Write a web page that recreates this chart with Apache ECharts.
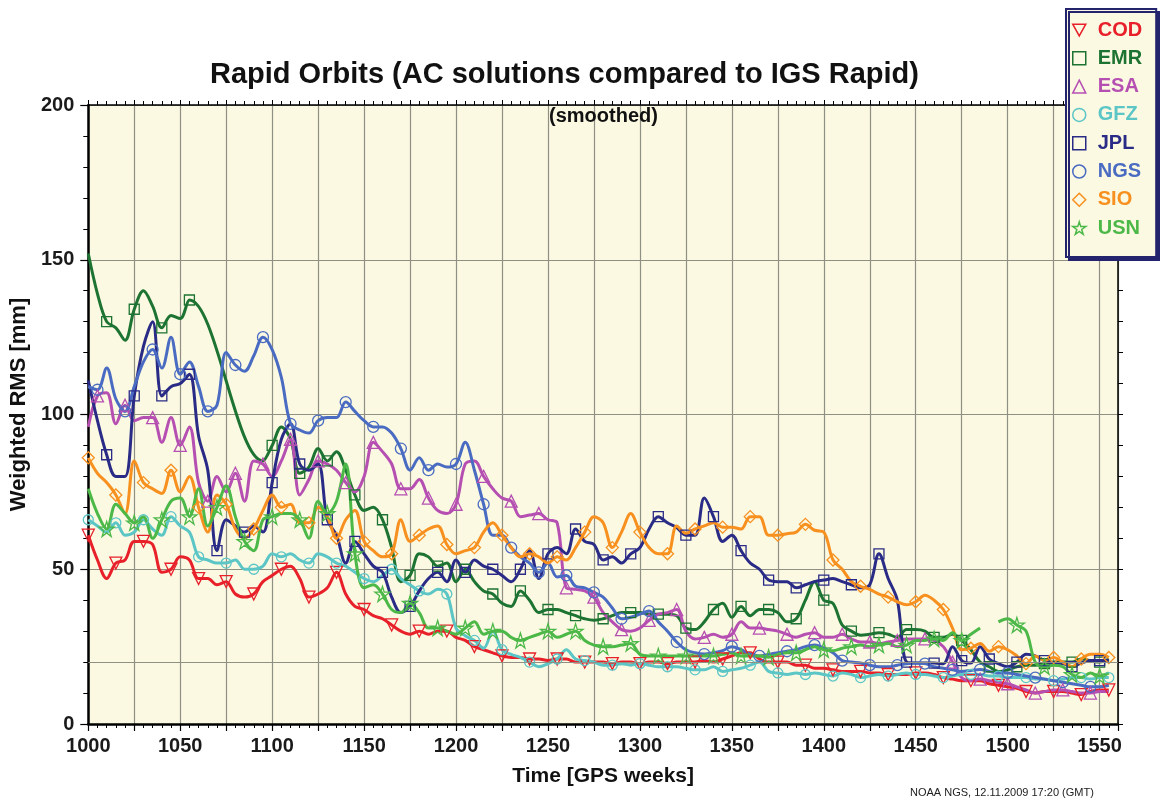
<!DOCTYPE html>
<html>
<head>
<meta charset="utf-8">
<title>Rapid Orbits</title>
<script src="https://cdn.jsdelivr.net/npm/echarts@6/dist/echarts.min.js"></script>
<style>
html, body { margin: 0; padding: 0; background: #fff; }
#chart { width: 1160px; height: 802px; }
</style>
</head>
<body>
<div id="chart"></div>
<script>
'use strict';

// GPS weeks, one value every 5 weeks
var weeks = [
	1000, 1005, 1010, 1015, 1020, 1025, 1030, 1035, 1040, 1045,
	1050, 1055, 1060, 1065, 1070, 1075, 1080, 1085, 1090, 1095,
	1100, 1105, 1110, 1115, 1120, 1125, 1130, 1135, 1140, 1145,
	1150, 1155, 1160, 1165, 1170, 1175, 1180, 1185, 1190, 1195,
	1200, 1205, 1210, 1215, 1220, 1225, 1230, 1235, 1240, 1245,
	1250, 1255, 1260, 1265, 1270, 1275, 1280, 1285, 1290, 1295,
	1300, 1305, 1310, 1315, 1320, 1325, 1330, 1335, 1340, 1345,
	1350, 1355, 1360, 1365, 1370, 1375, 1380, 1385, 1390, 1395,
	1400, 1405, 1410, 1415, 1420, 1425, 1430, 1435, 1440, 1445,
	1450, 1455, 1460, 1465, 1470, 1475, 1480, 1485, 1490, 1495,
	1500, 1505, 1510, 1515, 1520, 1525, 1530, 1535, 1540, 1545,
	1550, 1555
];

// weighted RMS [mm] per analysis centre (smoothed)
var cod = [
	61, 53, 47, 52, 53, 59, 59, 58, 49, 50,
	54, 53, 47, 47, 45, 46, 42, 41, 42, 46,
	48, 50, 51, 47, 41, 42, 44, 49, 42, 38,
	37, 35, 34, 32, 30, 29, 30, 29, 30, 30,
	28, 27, 25, 24, 23, 22, 21.5, 21.5, 21, 21,
	20.5, 21, 21, 20, 20, 20, 20, 19.5, 20, 20,
	19.5, 20, 20, 19.5, 20, 20, 20, 20.5, 20, 21,
	22, 23, 23, 21, 20, 20, 20, 19, 19, 18,
	18, 17.5, 17, 17, 17, 16.5, 16.5, 16, 16, 16,
	16.5, 16.5, 16, 15, 14.5, 14, 14, 14, 13, 12.5,
	12, 11.5, 10.5, 10, 10.5, 10.5, 10.5, 10, 9.5, 10.5,
	11, 11
];
var emr = [
	152, 139, 130, 128, 124, 134, 140, 135, 128, 132,
	131, 137, null, null, null, null, null, null, null, 85,
	90, 96, 92, 81, 83, 89, 85, 88, 82, 74,
	69, 70, 66, 57, 46, 48, 55, 54, 51, 52,
	46, 50, 46, 43, 42, 39, 38, 43, 40, 36,
	37, 37, 36, 35, 34, 33.5, 34, 35, 36, 36,
	36, 35.5, 35.5, 35.5, 35, 31, 30.5, 33, 37, 39,
	34.5, 38, 35, 37, 37, 36, 33, 34, 40, 46,
	40, 39, 32, 30, 28.7, 29, 29.5, 29, 28, 30.5,
	30.5, 30, 28, 28, 29, 27, 24, 20, 18.5, 17,
	17.5, 18.5, 19, 19, 19.5, 20, 20, 20, 21, 20.5,
	20, 21
];
var esa = [
	96, 106, 107, 97, 103, 98, 99, 99, 91, 99,
	90, 96, 78, 72, 80, 75, 81, 72, 85, 84,
	80, 85, 92, 74, 79, 85, 84, 82, 78, 75,
	80, 91, 88, 84, 76, 76, 79, 73, 69, 68,
	71, 84, 85, 80, 76, 73, 72, 67, 67.5, 68,
	66, 65, 44, 43.5, 43, 41, 36, 33, 30.5, 30,
	31, 33.5, 35.5, 36, 37, 30, 27.5, 28, 29, 28,
	29, 33, 31, 31, 30.5, 30, 29, 28, 29, 29.5,
	28, 28, 29, 27.5, 26.5, 26.5, 26, 26.5, 27, 27.5,
	27.5, 27.5, 27, 25, 20, 15, 14, 14.5, 14, 13.5,
	13, 12, 11, 10, 10.5, 11, 11, 10.5, 10, 10,
	10.5, 10.5
];
var gfz = [
	66, 64, 62, 65, 61, 62, 66, 63, 61, 67,
	64, 62, 54, 53, 52, 52, 53, 50, 50, 51,
	55, 54, 55, 53, 52, 55, 54, 52, 51, 49,
	47, 46, 48, 50, 47, 45, 43, 42, 43.5, 42,
	31, 28.5, 27, 24.5, 30, 24, 22.5, 21.5, 20, 18.5,
	19.5, 21, 24, 21, 20.5, 20, 19, 19, 19.5, 19,
	19.5, 19, 18.5, 18.5, 18.5, 18, 17.5, 17.5, 18.5, 17,
	17.5, 18, 19, 20, 17, 16.5, 16, 16.5, 16, 16.5,
	16, 15.5, 16.5, 16, 15, 15.5, 16, 15.5, 16, 16.5,
	16, 16, 15.5, 15, 15.5, 16, 16, 16, 15.5, 15.5,
	15, 15, 15, 14.5, 14.5, 14, 14.5, 15, 15, 14.5,
	15, 15
];
var jpl = [
	111, 98, 87, 80, 80, 106, 122, 130, 106, 109,
	110, 113, 93, 82, 56, 66, 64, 62, 64, 62,
	78, 92, 97, 84, 82, 84, 66, 61, 52, 59,
	55, 51, 49, 41, 36, 38, 43, 47, 49, 46,
	53, 49, 53, 51, 50, 48, 46, 50, 56, 47,
	55, 57, 55, 63, 59, 58, 53, 54, 52, 55,
	57, 63, 67, 65, 63.5, 61, 61, 73, 67, 59,
	61, 56, 52, 50, 46.5, 46, 46, 44, 45, 46,
	46.5, 47, 46, 45, 44, 45, 55, 47, 40, 20,
	19.7, 19.7, 19.7, 19.5, 25, 20.5, 19.7, 25, 21, 19.5,
	18.5, 20, 22.5, 22, 20.5, 19.7, 19.5, 18.5, 19.7, 20.5,
	20.5, 20.5
];
var ngs = [
	109, 108, 115, 105, 101, 109, 117, 121, 115, 125,
	113, 117, 109, 101, 103, 120, 116, 114, 119, 125,
	121, 112, 97, 95, 94, 98, 99, 99, 104, 101,
	98, 96, 96, 94, 89, 82, 86, 82, 84, 83,
	84, 91, 82, 71, 61, 61, 57, 54, 52, 49,
	52, 47.5, 48, 44.5, 44, 42.5, 41, 37.5, 34, 34.5,
	35.5, 36.5, 33, 30, 26.5, 24, 23, 22.6, 23, 23.7,
	25, 24, 22.6, 22, 22.5, 23, 23.5, 24, 25, 25.5,
	24.5, 23, 20.5, 20, 19.7, 19, 18.5, 18.5, 19, 19.5,
	19.7, 19.5, 18.5, 18, 17.5, 17, 17.3, 17.6, 17, 16.5,
	16.5, 16, 15.5, 15, 14.5, 14, 13.5, 13, 12.5, 12,
	12, 12.5
];
var sio = [
	86, 81, 78, 74, 68, 85, 78, 76, 74.5, 82,
	75, 80, 70, 62, 74, 71, 63, 60, 63, 69,
	74, 70, 71, 65, 65, 70, 67, 60, 66, 69,
	59, 56, 54, 55, 66, 59, 61, 63, 64, 58,
	55, 56, 57, 62, 65, 61, 57, 54, 55, 54,
	52, 54, 53, 57, 62, 67, 65, 57, 62, 68,
	62, 57, 55, 55, 64, 61.6, 63, 64, 65, 63.6,
	63.6, 63, 67, 67, 61, 61, 61.5, 62, 64.5, 62.6,
	62, 53, 50, 46, 44.5, 43.5, 42, 41, 39.5, 38.5,
	39.5, 41.6, 40, 37, 31, 24, 24.5, 26, 23.5, 25,
	24, 22, 19.5, 22, 20.5, 21.5, 20, 18.5, 21, 22.5,
	22.5, 21.5
];
var usn = [
	76, 68, 63, 71, 68, 65, 67, 60, 66, 72,
	73, 67, 76, 64, 70, 77, 67, 59, 56, 66,
	67, 68, 68, 66, 60, 72, 68, 72, 84, 55,
	44, 45, 42, 37, 36, 39, 36, 31, 31, 30,
	29, 31, 33, 29, 30, 30, 28, 27, 28, 29,
	30, 28, 29, 30, 27, 25.5, 25, 25, 25.5, 26,
	22.5, 22, 22, 22, 22, 22, 22, 22, 22, 22.5,
	23, 22, 22, 22, 21.6, 22.5, 23, 23, 24, 25,
	24, 23.7, 24.5, 25, 25.5, 25, 25.5, 26, 25, 25.5,
	27, 27, 27.5, 27, 29.5, 27, 29, 31, null, 33,
	34, 32, 30, 20, 18.5, 19, 18.5, 16, 15, 16.5,
	15.5, 16.5
];

var names = ['COD', 'EMR', 'ESA', 'GFZ', 'JPL', 'NGS', 'SIO', 'USN'];
var values = [cod, emr, esa, gfz, jpl, ngs, sio, usn];

// 样式
var colors = ['#e8202a', '#1d7332', '#b64fb2', '#5cc6c6', '#2a2b86', '#4a6bc2', '#f7901e', '#4cb848'];
var starPath = 'path://M50,2 L61,37 L98,37 L68,58 L79,94 L50,72 L21,94 L32,58 L2,37 L39,37 Z';
var symbols = ['path://M0,0 L10,0 L5,9 Z', 'rect', 'triangle', 'circle', 'rect', 'circle', 'diamond', starPath];
var symbolSizes = [12, 10, 12, 10, 10, 11, 12, 15];
var font = '"Liberation Sans", Arial, Helvetica, sans-serif';
var gridColor = '#8f8f84';

// 隔几个点画一个空心标记
function buildData(vals, k) {
	return weeks.map(function (w, i) {
		var v = vals[i];
		var item = { value: [w, v === null ? '-' : v] };
		if (v === null || (i + k) % 3 !== 0) {
			item.symbol = 'none';
		}
		return item;
	});
}

var series = names.map(function (name, k) {
	var s = {
		name: name,
		type: 'line',
		data: buildData(values[k], k),
		smooth: 0.35,
		showSymbol: true,
		showAllSymbol: true,
		symbol: symbols[k],
		symbolSize: symbolSizes[k],
		connectNulls: name === 'EMR',
		lineStyle: { color: colors[k], width: 3 },
		itemStyle: { color: 'rgba(0,0,0,0)', borderColor: colors[k], borderWidth: 1.3 },
		emphasis: { disabled: true }
	};
	if (k === 0) {
		// horizontal reference line at 20 mm
		s.markLine = {
			silent: true,
			symbol: 'none',
			label: { show: false },
			lineStyle: { color: gridColor, type: 'solid', width: 1.2 },
			data: [{ yAxis: 20 }]
		};
	}
	return s;
});

var chart = echarts.init(document.getElementById('chart'));

chart.setOption({
	animation: false,
	backgroundColor: '#ffffff',
	textStyle: { fontFamily: font },
	title: [{
		text: 'Rapid Orbits (AC solutions compared to IGS Rapid)',
		left: 210,
		top: 60,
		padding: 0,
		textStyle: { fontFamily: font, fontSize: 29, fontWeight: 'bold', color: '#111' }
	}, {
		text: '(smoothed)',
		left: 549,
		top: 106,
		padding: 0,
		textStyle: { fontFamily: font, fontSize: 20, fontWeight: 'bold', color: '#111' }
	}],
	legend: {
		orient: 'vertical',
		left: 1066,
		top: 9,
		padding: [11, 14, 19, 6],
		itemWidth: 13,
		itemHeight: 13,
		itemGap: 8.3,
		backgroundColor: '#fbf9e2',
		borderColor: '#24246e',
		borderWidth: 2,
		shadowColor: '#24246e',
		shadowOffsetX: 3,
		shadowOffsetY: 3,
		shadowBlur: 0,
		selectedMode: false,
		itemStyle: { borderWidth: 1.5 },
		textStyle: { fontFamily: font, fontSize: 20, fontWeight: 'bold', padding: [0, 0, 0, 7] },
		data: names.map(function (name, k) {
			return { name: name, icon: symbols[k], textStyle: { color: colors[k] } };
		})
	},
	grid: {
		left: 87,
		right: 42,
		top: 105,
		bottom: 78,
		show: true,
		backgroundColor: '#fbf9e2',
		borderWidth: 0
	},
	xAxis: [{
		type: 'value',
		position: 'bottom',
		min: 1000,
		max: 1560,
		interval: 25,
		name: 'Time [GPS weeks]',
		nameLocation: 'middle',
		nameGap: 42,
		nameTextStyle: { fontFamily: font, fontSize: 21, fontWeight: 'bold', color: '#111' },
		axisLine: { show: true, onZero: false, lineStyle: { color: '#000', width: 2.5 } },
		axisTick: { show: true, length: 7, lineStyle: { color: '#000', width: 1.2 } },
		minorTick: { show: true, splitNumber: 5, length: 4, lineStyle: { color: '#000', width: 1 } },
		axisLabel: {
			margin: 12,
			fontFamily: font, fontSize: 20, fontWeight: 'bold', color: '#1a1a1a',
			formatter: function (v) { return v % 50 === 0 ? String(v) : ''; }
		},
		splitLine: { show: true, lineStyle: { color: gridColor, width: 1.2 } }
	}, {
		type: 'value',
		position: 'top',
		min: 1000,
		max: 1560,
		interval: 25,
		axisLine: { show: true, onZero: false, lineStyle: { color: '#000', width: 1.5 } },
		axisTick: { show: true, length: 5, lineStyle: { color: '#000', width: 1 } },
		minorTick: { show: true, splitNumber: 5, length: 4, lineStyle: { color: '#000', width: 1 } },
		axisLabel: { show: false },
		splitLine: { show: false }
	}],
	yAxis: [{
		type: 'value',
		position: 'left',
		min: 0,
		max: 200,
		interval: 50,
		name: 'Weighted RMS [mm]',
		nameLocation: 'middle',
		nameRotate: 90,
		nameGap: 55,
		nameTextStyle: { fontFamily: font, fontSize: 22, fontWeight: 'bold', color: '#111', padding: [0, 0, 0, 20] },
		axisLine: { show: true, onZero: false, lineStyle: { color: '#000', width: 2.5 } },
		axisTick: { show: true, length: 8, lineStyle: { color: '#000', width: 1.2 } },
		minorTick: { show: true, splitNumber: 5, length: 5, lineStyle: { color: '#000', width: 1 } },
		axisLabel: { margin: 14, fontFamily: font, fontSize: 20, fontWeight: 'bold', color: '#1a1a1a' },
		splitLine: { show: true, lineStyle: { color: gridColor, width: 1.2 } }
	}, {
		type: 'value',
		position: 'right',
		min: 0,
		max: 200,
		interval: 50,
		axisLine: { show: true, onZero: false, lineStyle: { color: '#000', width: 1.5 } },
		axisTick: { show: true, length: 5, lineStyle: { color: '#000', width: 1 } },
		minorTick: { show: true, splitNumber: 5, length: 5, lineStyle: { color: '#000', width: 1 } },
		axisLabel: { show: false },
		splitLine: { show: false }
	}],
	graphic: [{
		type: 'text',
		left: 910,
		top: 787,
		style: {
			text: 'NOAA NGS, 12.11.2009 17:20 (GMT)',
			font: '11px ' + font,
			fill: '#222'
		}
	}],
	series: series
});
</script>
</body>
</html>
